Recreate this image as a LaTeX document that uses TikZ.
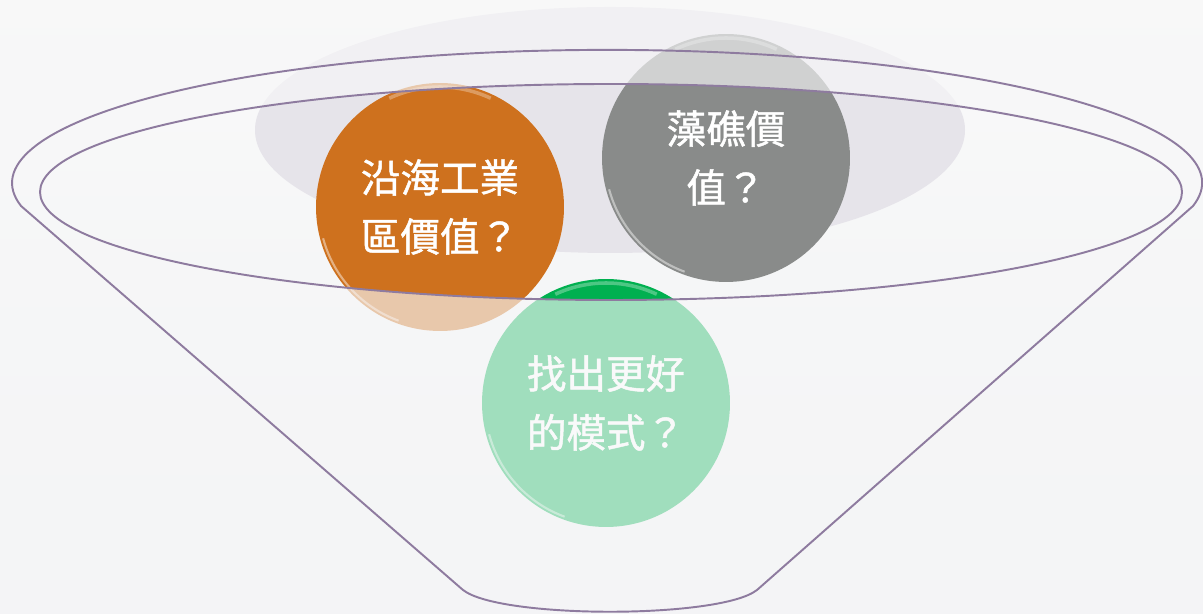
\documentclass[tikz,border=0pt]{standalone}
\usepackage{fontspec}
\newfontfamily\tcfont[FakeBold=1.2]{Noto Sans CJK TC}
\usetikzlibrary{calc}
\definecolor{rimline}{HTML}{8E7B9F}
\definecolor{bgtop}{HTML}{FAFAFA}
\definecolor{bgbot}{HTML}{EFF1F3}
\definecolor{haze}{HTML}{E6E4EA}
\definecolor{coastorange}{HTML}{CE711E}
\definecolor{reefgrey}{HTML}{898B8A}
\definecolor{modelgreen}{HTML}{00B050}
\definecolor{veil}{HTML}{F7F7F8}

\begin{document}
\begin{tikzpicture}[x=0.02cm,y=0.02cm,
    bubble/.style={circle, minimum size=4.96cm, inner sep=0pt, text=white, align=center,
      font=\tcfont\fontsize{22.5}{33.5}\selectfont},
    rim/.style={draw=rimline, line width=1.1pt}]
  \useasboundingbox (0,0) rectangle (1203,614);
  % --- background ---
  \shade[top color=bgtop, bottom color=bgbot] (0,0) rectangle (1203,614);
  \fill[haze] (610,484) ellipse[x radius=355, y radius=123];

  % --- the three bubbles ---
  \node[bubble, fill=coastorange] (coast) at (440,407) {沿海工業\\區價值？};
  \node[bubble, fill=reefgrey] (reef) at (726,456) {藻礁價\\值？};
  \node[bubble, fill=modelgreen] (model) at (606,211) {找出更好\\的模式？};
  % gloss on the rims
  \foreach \b in {coast,reef,model}{
    \draw[white, opacity=.45, line width=1.2pt] ($(\b.center)+(195:121)$) arc[start angle=195, end angle=250, radius=121];
    \draw[white, opacity=.3, line width=2pt] ($(\b.center)+(65:120)$) arc[start angle=65, end angle=115, radius=120];
  }

  % --- funnel body: veil over all but the mouth ---
  \fill[veil, opacity=.65, even odd rule] (0,0) rectangle (1203,614)
    (611,422) ellipse[x radius=571, y radius=108];

  % --- funnel outline ---
  \draw[rim] (1193,408) arc[start angle=-10, end angle=190, x radius=595, y radius=133]
    -- (463,24) .. controls (500,-5) and (720,-5) .. (757,24) -- cycle;
  \draw[rim] (611,422) ellipse[x radius=571, y radius=108];
\end{tikzpicture}
\end{document}
